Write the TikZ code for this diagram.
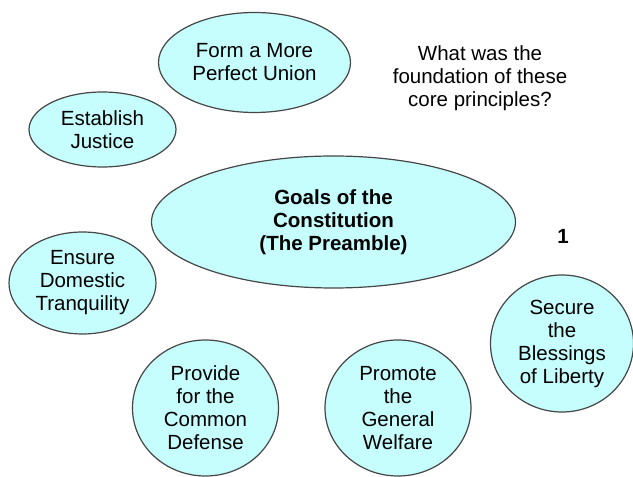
\documentclass[tikz,border=0pt]{standalone}
\usepackage{fontspec}
\setmainfont{Liberation Sans}
\usetikzlibrary{shapes.geometric}
\definecolor{goalfill}{RGB}{198,253,253}
\definecolor{goalline}{RGB}{70,70,70}
\begin{document}
\begin{tikzpicture}[x=1pt,y=1pt,
  goal/.style={ellipse, draw=goalline, fill=goalfill, line width=1.2pt,
    inner sep=0pt, align=center, font=\fontsize{20.5}{23}\selectfont},
  plain/.style={align=center, inner sep=0pt, font=\fontsize{20.5}{23}\selectfont}]
\useasboundingbox (0,0) rectangle (633,477);
\node[goal, minimum width=192pt, minimum height=100pt] (union) at (254.5,414.5) {Form a More\\Perfect Union};
\node[goal, minimum width=147pt, minimum height=75pt] (justice) at (102.5,347.5) {Establish\\Justice};
\node[goal, minimum width=364pt, minimum height=132pt, font=\fontsize{20.5}{23}\selectfont\bfseries] (goals) at (333.5,255) {Goals of the\\Constitution\\(The Preamble)};
\node[goal, minimum width=147pt, minimum height=102pt] (tranq) at (82.5,194) {Ensure\\Domestic\\Tranquility};
\node[goal, minimum width=146pt, minimum height=136pt] (defense) at (205.5,69) {Provide\\for the\\Common\\Defense};
\node[goal, minimum width=146pt, minimum height=136pt] (welfare) at (398,69) {Promote\\the\\General\\Welfare};
\node[goal, minimum width=143pt, minimum height=137pt] (liberty) at (562,133.5) {Secure\\the\\Blessings\\of Liberty};
\node[plain] (question) at (480,399) {What was the\\foundation of these\\core principles?};
\node[plain, font=\fontsize{20.5}{23}\selectfont\bfseries] (one) at (563,241) {1};
\end{tikzpicture}
\end{document}
